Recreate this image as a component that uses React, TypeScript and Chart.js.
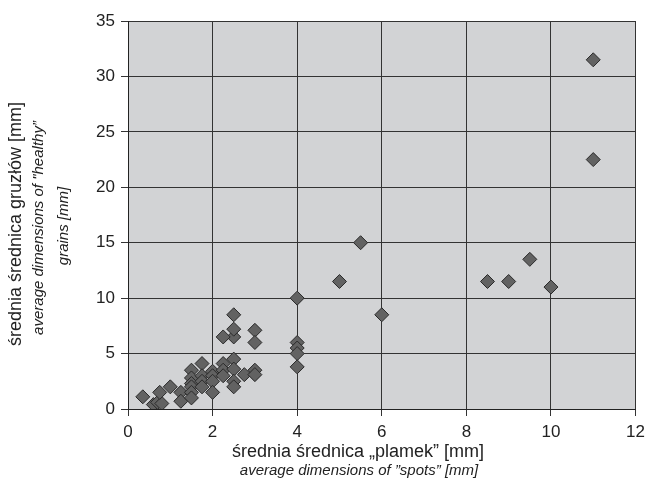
import React, { useEffect, useRef } from "react";
import { Chart, registerables } from "chart.js";

Chart.register(...registerables);

const xValues = [0.35, 0.6, 0.7, 0.8, 0.75, 1, 1.25, 1.25, 1.5, 1.5, 1.5, 1.5, 1.5, 1.5, 1.75, 1.75, 1.75, 1.75, 2, 2, 2, 2, 2.25, 2.25, 2.25, 2.5, 2.5, 2.5, 2.5, 2.5, 2.5, 2.5, 2.25, 2.75, 3, 3, 3, 3, 4, 4, 4, 4, 4, 5, 5.5, 6, 8.5, 9, 9.5, 10, 11, 11];
const yValues = [1.1, 0.4, 0.6, 0.5, 1.5, 2, 1.5, 0.7, 3.5, 2.8, 2.3, 2, 1.5, 1, 4.1, 3, 2.5, 2, 3.4, 3, 2.5, 1.5, 4.1, 3.5, 3, 4.5, 3.6, 2.5, 2, 6.5, 7.2, 8.5, 6.5, 3.1, 3.5, 3.1, 7.1, 6, 10, 6, 5.5, 5, 3.8, 11.5, 15, 8.5, 11.5, 11.5, 13.5, 11, 22.5, 31.5];

const xTickValues = [0, 2, 4, 6, 8, 10, 12];
const yTickValues = [0, 5, 10, 15, 20, 25, 30, 35];

const yTitleMain = "średnia średnica gruzłów [mm]";
const yTitleSub1 = "average dimensions of \"healthy\u201D";
const yTitleSub2 = "grains [mm]";
const xTitleMain = "średnia średnica \u201Eplamek\u201D [mm]";
const xTitleSub = "average dimensions of \u201Dspots\u201D [mm]";

const FONT = '"Liberation Sans", Arial, sans-serif';

const bgPlugin = {
  id: "plotBg",
  beforeDraw(chart: any) {
    const { ctx, chartArea } = chart;
    ctx.save();
    ctx.fillStyle = "#d2d3d5";
    ctx.fillRect(chartArea.left, chartArea.top, chartArea.right - chartArea.left, chartArea.bottom - chartArea.top);
    ctx.restore();
  },
};

const titlesPlugin = {
  id: "titles",
  afterDraw(chart: any) {
    const ctx = chart.ctx;
    ctx.save();
    ctx.fillStyle = "#222";
    ctx.textAlign = "center";
    ctx.textBaseline = "middle";
    const rot = (x: number, y: number, text: string, font: string) => {
      ctx.save();
      ctx.translate(x, y);
      ctx.rotate(-Math.PI / 2);
      ctx.font = font;
      ctx.fillText(text, 0, 0);
      ctx.restore();
    };
    rot(16, 224, yTitleMain, `18px ${FONT}`);
    rot(39, 228, yTitleSub1, `italic 15px ${FONT}`);
    rot(64, 226, yTitleSub2, `italic 15px ${FONT}`);
    ctx.font = `18px ${FONT}`;
    ctx.fillText(xTitleMain, 358, 452);
    ctx.font = `italic 15px ${FONT}`;
    ctx.fillText(xTitleSub, 359, 471);
    ctx.restore();
  },
};

export default function App() {
  const ref = useRef<HTMLCanvasElement | null>(null);
  useEffect(() => {
    if (!ref.current) return;
    const data = xValues.map((x, i) => ({ x, y: yValues[i] }));
    const chart = new Chart(ref.current, {
      type: "scatter",
      data: {
        datasets: [
          {
            data,
            pointStyle: "rectRot",
            pointRadius: 7,
            pointHoverRadius: 7,
            backgroundColor: "#626262",
            borderColor: "#2a2a2a",
            borderWidth: 1,
          },
        ],
      },
      options: {
        responsive: false,
        animation: false,
        layout: { padding: { top: 21, right: 12, left: 0, bottom: 0 } },
        plugins: { legend: { display: false }, tooltip: { enabled: false } },
        scales: {
          x: {
            type: "linear",
            min: 0,
            max: 12,
            afterBuildTicks: (s: any) => {
              s.ticks = xTickValues.map((v) => ({ value: v }));
            },
            afterFit: (s: any) => {
              s.height = 79;
            },
            ticks: { color: "#222", font: { family: FONT, size: 17 }, padding: 6 },
            grid: { color: "#333", tickLength: 7, lineWidth: 1 },
            border: { color: "#222", width: 1 },
          },
          y: {
            type: "linear",
            min: 0,
            max: 35,
            afterBuildTicks: (s: any) => {
              s.ticks = yTickValues.map((v) => ({ value: v }));
            },
            afterFit: (s: any) => {
              s.width = 128;
            },
            ticks: { color: "#222", font: { family: FONT, size: 17 }, padding: 6 },
            grid: { color: "#333", tickLength: 7, lineWidth: 1 },
            border: { color: "#222", width: 1 },
          },
        },
      },
      plugins: [bgPlugin, titlesPlugin],
    });
    return () => chart.destroy();
  }, []);
  return (
    <div style={{ position: "absolute", left: 0, top: 0, width: 651, height: 488, background: "#fff" }}>
      <canvas ref={ref} width={651} height={488} style={{ display: "block" }} />
    </div>
  );
}
